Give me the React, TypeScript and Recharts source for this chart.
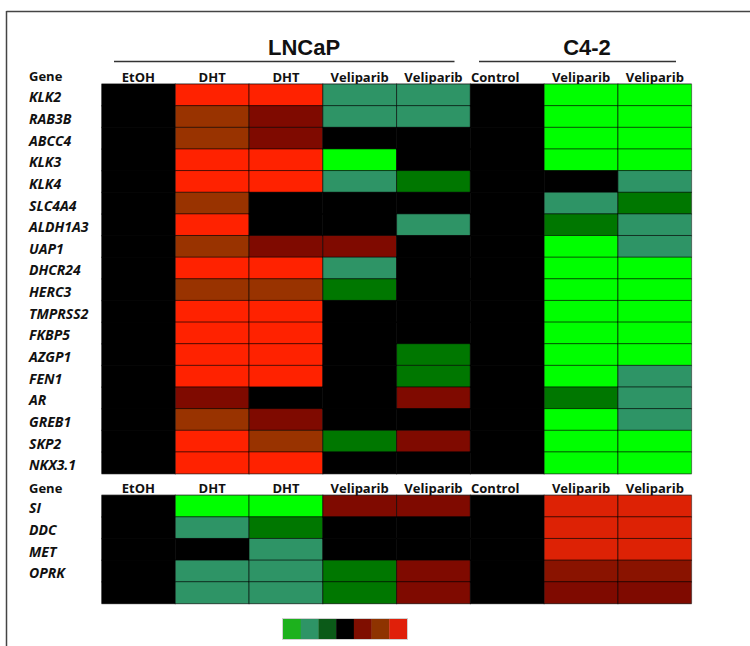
import React from 'react';
import { BarChart, Bar, XAxis, YAxis, ReferenceArea, Customized } from 'recharts';

// ---------- data ----------
const COLUMNS = ['EtOH', 'DHT', 'DHT', 'Veliparib', 'Veliparib', 'Control', 'Veliparib', 'Veliparib'];
const GROUPS = ['LNCaP', 'C4-2'];

const TOP_GENES = ['KLK2', 'RAB3B', 'ABCC4', 'KLK3', 'KLK4', 'SLC4A4', 'ALDH1A3', 'UAP1', 'DHCR24', 'HERC3', 'TMPRSS2', 'FKBP5', 'AZGP1', 'FEN1', 'AR', 'GREB1', 'SKP2', 'NKX3.1'];
// K black, R red, B brown, D dark red, S sea green, G dark green, L bright green
const TOP_CODES = [
  'KRRSSKLL',
  'KBDSSKLL',
  'KBDKKKLL',
  'KRRLKKLL',
  'KRRSGKKS',
  'KBKKKKSG',
  'KRKKSKGS',
  'KBDDKKLS',
  'KRRSKKLL',
  'KBBGKKLL',
  'KRRKKKLL',
  'KRRKKKLL',
  'KRRKGKLL',
  'KRRKGKLS',
  'KDKKDKGS',
  'KBDKKKLS',
  'KRBGDKLL',
  'KRRKKKLL',
];

const BOTTOM_GENES = ['SI', 'DDC', 'MET', 'OPRK', ''];
const BOTTOM_CODES = [
  'KLLDDKrr',
  'KSGKKKrr',
  'KKSKKKrr',
  'KSSGDKdd',
  'KSSGDKDD',
];

const LEGEND_COLORS = ['#1DB11D', '#2E9466', '#0B5A18', '#000000', '#7F0E00', '#8E3300', '#E0200A'];

const PALETTE: Record<string, string> = {
  K: '#000000',
  R: '#FF2200',
  r: '#DD2205',
  B: '#993300',
  D: '#7F0A00',
  d: '#8A1300',
  S: '#2E9466',
  G: '#007700',
  L: '#00FF00',
};

// ---------- rows ----------
type Row = { id: string; label: string; kind: 'header' | 'gene'; codes: string; [k: string]: any };
const ones = () => {
  const o: Record<string, number> = {};
  COLUMNS.forEach((_, i) => (o['c' + i] = 1));
  return o;
};
const ROWS: Row[] = [
  { id: 'h0', label: 'Gene', kind: 'header', codes: '', ...ones() },
  ...TOP_GENES.map((g, i) => ({ id: 't' + i, label: g, kind: 'gene' as const, codes: TOP_CODES[i], ...ones() })),
  { id: 'h1', label: 'Gene', kind: 'header', codes: '', ...ones() },
  ...BOTTOM_GENES.map((g, i) => ({ id: 'b' + i, label: g, kind: 'gene' as const, codes: BOTTOM_CODES[i], ...ones() })),
];
const ROW_BY_ID: Record<string, Row> = {};
ROWS.forEach((r) => (ROW_BY_ID[r.id] = r));

// ---------- layout ----------
const W = 750;
const H = 646;
const ROW_H = 21.64;
const GRID_TOP = 84;
const GRID_LEFT = 101.5;
const GRID_RIGHT = 691.7;
const Y_AXIS_W = 1;
const X_AXIS_H = 1;
const MARGIN = {
  top: GRID_TOP - ROW_H,
  left: GRID_LEFT - Y_AXIS_W,
  right: W - GRID_RIGHT,
  bottom: H - (GRID_TOP + (ROWS.length - 1) * ROW_H) - X_AXIS_H,
};
const FONT = "'Open Sans', 'DejaVu Sans', sans-serif";

const makeShape = (col: number) => (props: any) => {
  const { x, y, width, height, index } = props;
  const row: Row = props.payload && props.payload.id ? props.payload : ROWS[index];
  if (row.kind === 'header') {
    const name = COLUMNS[col];
    const shift = name === 'Control' ? -12 : 0;
    return (
      <text
        x={x + width / 2 + shift}
        y={y + height - 2.5}
        textAnchor="middle"
        fontFamily={FONT}
        fontSize={13}
        fontWeight={700}
        fill="#111"
      >
        {name}
      </text>
    );
  }
  return (
    <rect
      x={x}
      y={y}
      width={width}
      height={height}
      fill={PALETTE[row.codes[col]]}
      stroke="rgba(0,0,0,0.6)"
      strokeWidth={1}
    />
  );
};

const GeneTick = (props: any) => {
  const { y, payload } = props;
  const row = ROW_BY_ID[payload && payload.value];
  if (!row) return null;
  const isHeader = row.kind === 'header';
  return (
    <text
      x={29}
      y={y + (isHeader ? 8.3 : 7.5)}
      fontFamily={FONT}
      fontSize={isHeader ? 13 : 14}
      fontWeight={700}
      fontStyle={isHeader ? 'normal' : 'italic'}
      fill="#111"
    >
      {row.label}
    </text>
  );
};

const LEG_X = 283;
const LEG_Y = 619;
const LEG_W = 124;
const LEG_H = 20;

const Decor = () => (
  <g>
    <line x1={6.5} y1={11.5} x2={W} y2={11.5} stroke="#444" strokeWidth={1.5} />
    <line x1={6.5} y1={11} x2={6.5} y2={H} stroke="#444" strokeWidth={1.5} />
    <text x={304} y={54.5} textAnchor="middle" fontFamily="'Liberation Sans', Arial, sans-serif" fontWeight={700} fontSize={22} fill="#111">
      {GROUPS[0]}
    </text>
    <text x={587} y={54.5} textAnchor="middle" fontFamily="'Liberation Sans', Arial, sans-serif" fontWeight={700} fontSize={22} fill="#111">
      {GROUPS[1]}
    </text>
    <line x1={114} y1={61.5} x2={454.5} y2={61.5} stroke="#333" strokeWidth={1.5} />
    <line x1={479} y1={61.5} x2={676} y2={61.5} stroke="#333" strokeWidth={1.5} />
    {LEGEND_COLORS.map((c, i) => (
      <rect
        key={i}
        x={LEG_X + (i * LEG_W) / LEGEND_COLORS.length}
        y={LEG_Y}
        width={LEG_W / LEGEND_COLORS.length + 0.3}
        height={LEG_H}
        fill={c}
      />
    ))}
    <rect x={LEG_X - 0.5} y={LEG_Y - 0.5} width={LEG_W + 1} height={LEG_H + 1} fill="none" stroke="#d0d0d0" strokeWidth={1} />
  </g>
);

export default function App() {
  return (
    <div style={{ position: 'absolute', left: 0, top: 0, width: W, height: H, background: '#fff' }}>
      <BarChart
        width={W}
        height={H}
        data={ROWS}
        layout="vertical"
        margin={MARGIN}
        barCategoryGap={0}
        barGap={0}
      >
        <XAxis
          type="number"
          domain={[0, COLUMNS.length]}
          allowDataOverflow
          height={X_AXIS_H}
          axisLine={false}
          tickLine={false}
          tick={false}
        />
        <YAxis
          type="category"
          dataKey="id"
          width={Y_AXIS_W}
          axisLine={false}
          tickLine={false}
          interval={0}
          tick={<GeneTick />}
        />
        {COLUMNS.map((_, i) => (
          <Bar
            key={i}
            dataKey={'c' + i}
            stackId="grid"
            isAnimationActive={false}
            shape={makeShape(i)}
          />
        ))}
        <ReferenceArea x1={0} x2={COLUMNS.length} y1="t0" y2={'t' + (TOP_GENES.length - 1)} fill="none" stroke="#b5b5b5" strokeWidth={1} />
        <ReferenceArea x1={0} x2={COLUMNS.length} y1="b0" y2={'b' + (BOTTOM_GENES.length - 1)} fill="none" stroke="#b5b5b5" strokeWidth={1} />
        <Customized component={Decor} />
      </BarChart>
    </div>
  );
}
